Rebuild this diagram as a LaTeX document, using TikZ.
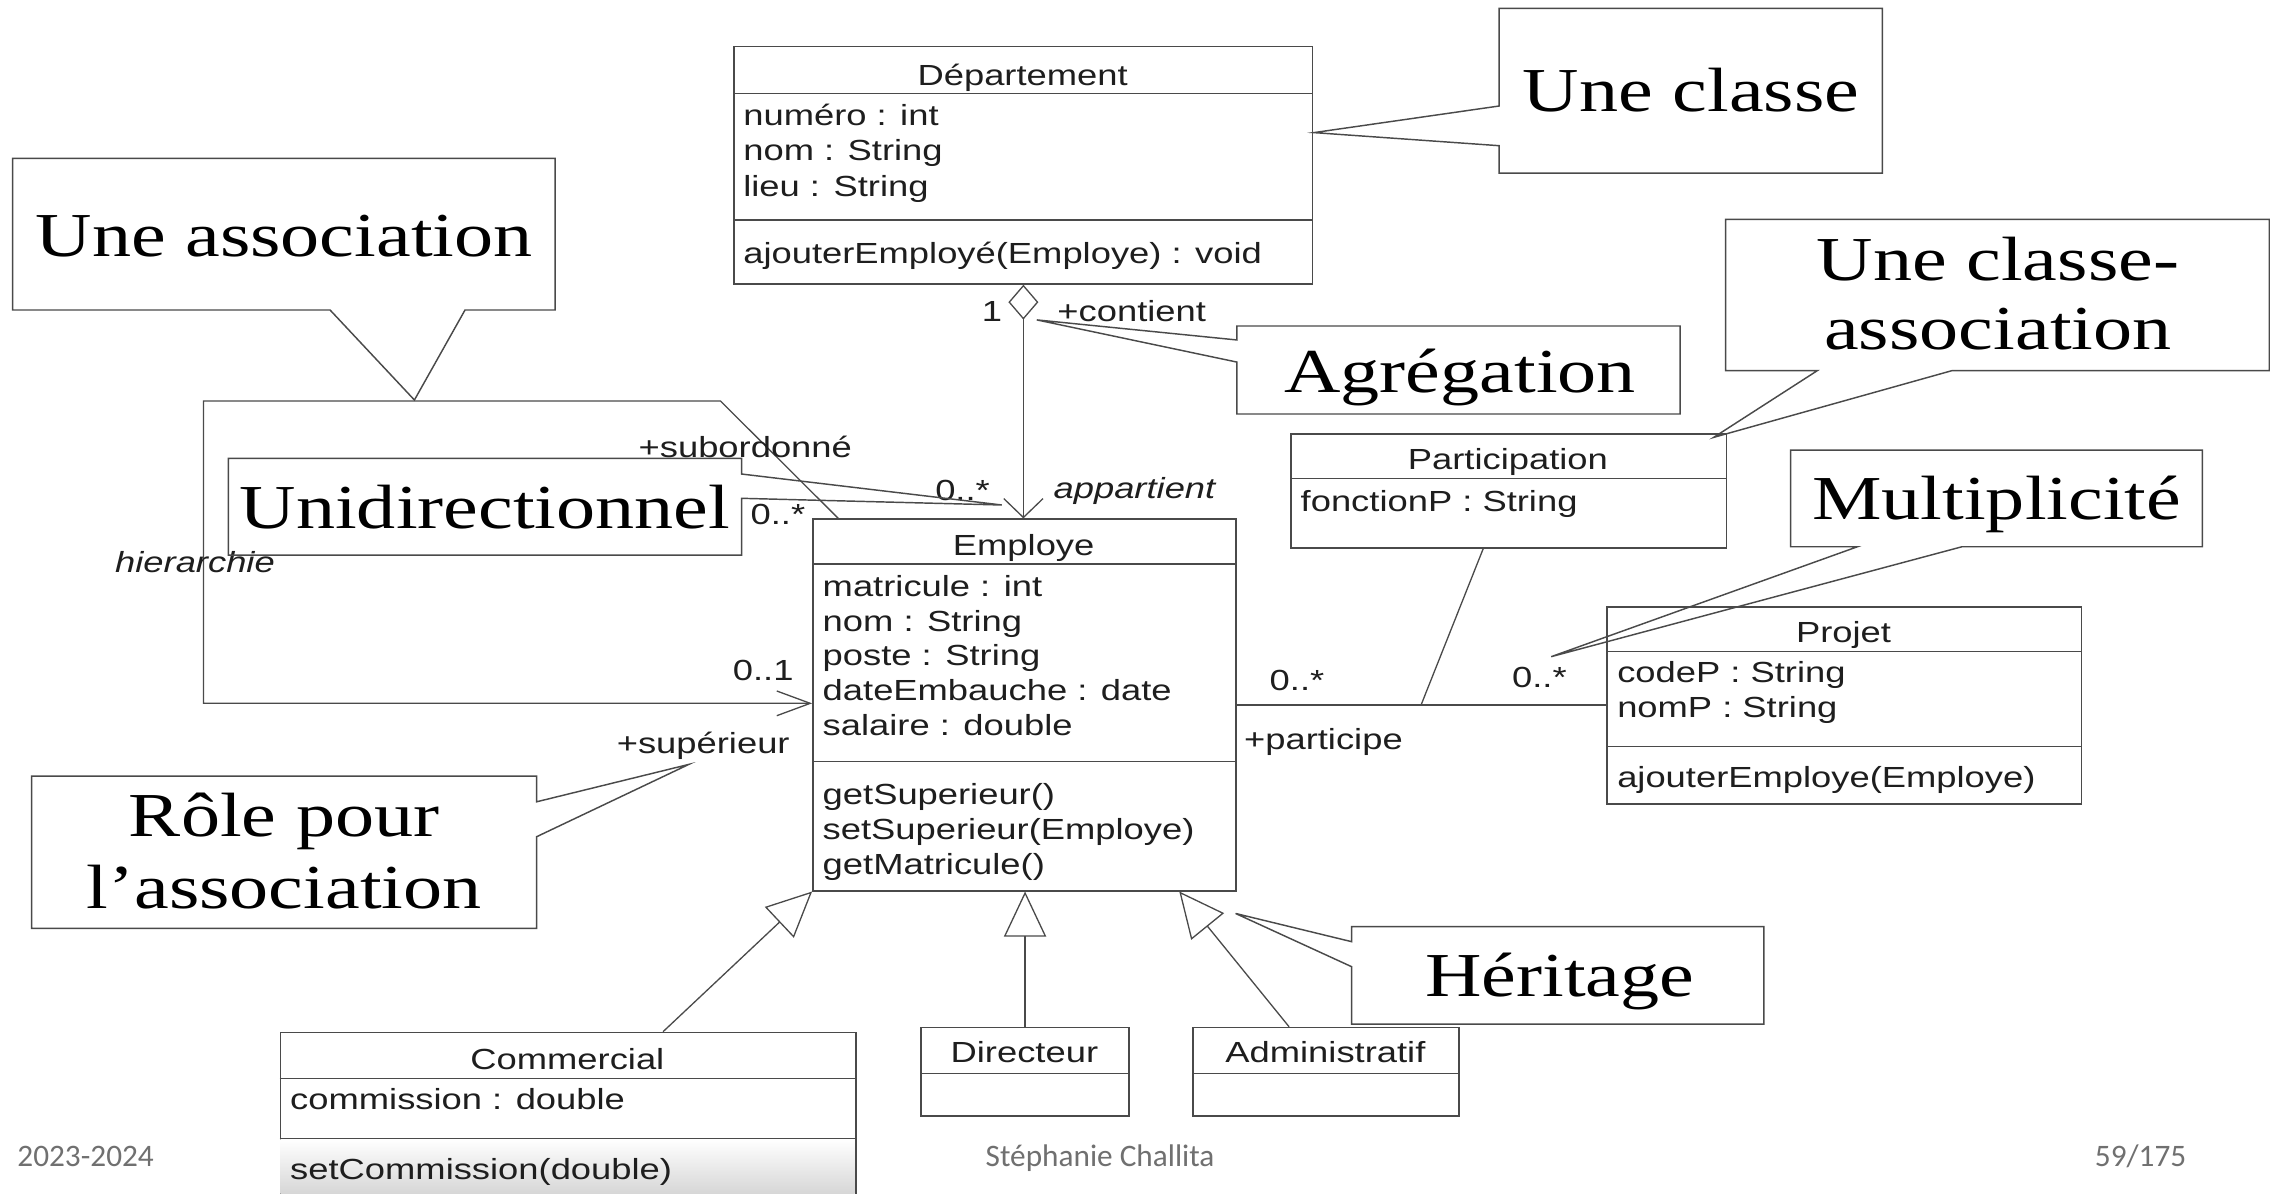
\documentclass[tikz,border=0pt]{standalone}
\usepackage{fontspec}
\usetikzlibrary{arrows.meta,calc}
\newfontfamily\umlsans[FakeStretch=1.25]{Liberation Sans}
\newfontfamily\callserif[FakeStretch=1.25]{Liberation Serif}
\newfontfamily\footsans{Carlito}
\newcommand\umlfnt{\umlsans\fontsize{20}{24}\selectfont}
\newcommand\callfnt{\callserif\fontsize{43}{49}\selectfont}
\newcommand\footfnt{\footsans\fontsize{21.5}{24}\selectfont}
\definecolor{lc}{HTML}{4A4A4A}
\definecolor{tc}{HTML}{1E1E1E}
\definecolor{fc}{HTML}{707070}
\begin{document}
\begin{tikzpicture}[x=1pt,y=-1pt,
  cls/.style={draw=lc, line width=1pt, fill=white, inner sep=0pt, anchor=north west},
  sep/.style={draw=lc, line width=1pt},
  ln/.style={draw=lc, line width=0.9pt},
  tx/.style={inner sep=0pt, anchor=base west, font=\umlfnt, text=tc},
  tt/.style={inner sep=0pt, anchor=base, font=\umlfnt, text=tc},
  co/.style={draw=lc, line width=1pt, line join=miter},
  ct/.style={inner sep=0pt, anchor=base, font=\callfnt, text=black},
  ft/.style={inner sep=0pt, anchor=base west, font=\footfnt, text=fc},
  gen/.style={ln, -{Triangle[open, length=31pt, width=29pt]}},
]
\useasboundingbox (0,0) rectangle (1568,821);
\clip (0,0) rectangle (1568,821);
\fill[white] (0,0) rectangle (1568,821);

% ---------- classes ----------
\node[cls, minimum width=398pt, minimum height=163.2pt] (dep) at (504.3,31.6) {};
\draw[sep] (504.3,64.2) -- (902.3,64.2);
\draw[sep] (504.3,151.3) -- (902.3,151.3);
\node[tt] (depT) at (703.3,58.5) {Département};
\node[tx] (depA1) at (511,86) {numéro : int};
\node[tx] (depA2) at (511,110.5) {nom : String};
\node[tx] (depA3) at (511,135) {lieu : String};
\node[tx] (depM1) at (511,181.5) {ajouterEmployé(Employe) : void};

\node[cls, minimum width=291.1pt, minimum height=255.6pt] (emp) at (558.5,356.5) {};
\draw[sep] (558.5,387.9) -- (849.6,387.9);
\draw[sep] (558.5,523.8) -- (849.6,523.8);
\node[tt] (empT) at (704,382) {Employe};
\node[tx] (empA1) at (565.6,410) {matricule : int};
\node[tx] (empA2) at (565.6,434) {nom : String};
\node[tx] (empA3) at (565.6,458) {poste : String};
\node[tx] (empA4) at (565.6,481.5) {dateEmbauche : date};
\node[tx] (empA5) at (565.6,505.5) {salaire : double};
\node[tx] (empM1) at (565.6,553.5) {getSuperieur()};
\node[tx] (empM2) at (565.6,577.5) {setSuperieur(Employe)};
\node[tx] (empM3) at (565.6,601.5) {getMatricule()};

\node[cls, minimum width=299.3pt, minimum height=78.4pt] (par) at (887.4,298) {};
\draw[sep] (887.4,329) -- (1186.7,329);
\node[tt] (parT) at (1037,323) {Participation};
\node[tx] (parA1) at (894.3,351.5) {fonctionP : String};

\node[cls, minimum width=326.4pt, minimum height=135.7pt] (prj) at (1104.6,416.8) {};
\draw[sep] (1104.6,448.2) -- (1431,448.2);
\draw[sep] (1104.6,513.5) -- (1431,513.5);
\node[tt] (prjT) at (1267.8,442) {Projet};
\node[tx] (prjA1) at (1112,469.5) {codeP : String};
\node[tx] (prjA2) at (1112,493.7) {nomP : String};
\node[tx] (prjM1) at (1112,541.8) {ajouterEmploye(Employe)};

\node[cls, minimum width=395.9pt, minimum height=130pt] (com) at (192.3,709.5) {};
\shade[top color=white, bottom color=black!16] (192.8,783.4) rectangle (587.7,821);
\draw[sep] (192.3,741.6) -- (588.2,741.6);
\draw[sep] (192.3,782.9) -- (588.2,782.9);
\node[tt] (comT) at (390.2,735.5) {Commercial};
\node[tx] (comA1) at (199.4,763) {commission : double};
\node[tx] (comM1) at (199.4,811) {setCommission(double)};

\node[cls, minimum width=143.1pt, minimum height=60.8pt] (dir) at (632.9,706.1) {};
\draw[sep] (632.9,738.2) -- (776,738.2);
\node[tt] (dirT) at (704.5,731) {Directeur};

\node[cls, minimum width=183pt, minimum height=60.8pt] (adm) at (820,706.1) {};
\draw[sep] (820,738.2) -- (1003,738.2);
\node[tt] (admT) at (911.5,731) {Administratif};

% ---------- connectors ----------
\draw[ln, {Diamond[open,length=24pt,width=20.6pt]}-{Straight Barb[length=13pt,width=27pt]}] (dep.south) -- (dep.south |- emp.north);

\coordinate (h1) at (495.5,275.8);
\coordinate (h2) at (140,275.8);
\coordinate (h3) at (140,483.7);
\draw[ln, -{Straight Barb[length=23pt,width=17pt]}] ($(emp.north west)+(18,0)$) -- (h1) -- (h2) -- (h3) -- (h3 -| emp.west);

\draw[ln] (emp.east) -- (emp.east -| prj.west);
\coordinate (pj) at (977.3,484.3);
\draw[ln] ($(par.south west)+(132.6,0)$) -- (pj |- emp.east);

\draw[gen] ($(com.north west)+(263.7,0)$) -- (emp.south west);
\draw[gen] (dir.north) -- (dir.north |- emp.south);
\draw[gen] ($(adm.north west)+(66.5,0)$) -- ($(emp.south west)+(252.5,0)$);

% ---------- labels ----------
\node[tx] (l1) at (675,221) {1};
\node[tx] (lcont) at (727,221) {+contient};
\node[tx] (lm1) at (643,344) {0..*};
\node[tx, font=\umlfnt\itshape] (lapp) at (724.4,343) {appartient};
\node[tx] (lsub) at (439,314.5) {+subordonné};
\node[tx] (lm2) at (516,361) {0..*};
\node[tx, font=\umlfnt\itshape] (lhier) at (79,394) {hierarchie};
\node[tx] (lm3) at (503.8,468) {0..1};
\node[tx] (lsup) at (424,518) {+supérieur};
\node[tx] (lm4) at (873,475) {0..*};
\node[tx] (lm5) at (1039.7,472.5) {0..*};
\node[tx] (lpart) at (855.4,515.5) {+participe};

% ---------- callouts ----------
\draw[co] (1031,5.7) -- (1294.5,5.7) -- (1294.5,119) -- (1031,119) -- (1031,100.2) -- (903.6,91.2) -- (1031,72.9) -- cycle;
\node[ct] (cClasse) at (1163,77) {Une classe};

\draw[co] (8.7,108.9) -- (381.7,108.9) -- (381.7,213.2) -- (319.8,213.2) -- (285,275.1) -- (227,213.2) -- (8.7,213.2) -- cycle;
\node[ct] (cAssoc) at (195.4,176.5) {Une association};

\draw[co] (157.1,315.2) -- (510,315.2) -- (510,326) -- (689,347.3) -- (510,342.7) -- (510,381.7) -- (157.1,381.7) -- cycle;
\node[ct] (cUni) at (333.5,363.4) {Unidirectionnel};

\draw[co] (850.6,224.2) -- (1155.4,224.2) -- (1155.4,284.7) -- (850.6,284.7) -- (850.6,249) -- (713,220) -- (850.6,233.8) -- cycle;
\node[ct] (cAgr) at (1004.2,270) {Agrégation};

\draw[co] (1186.7,150.8) -- (1560.6,150.8) -- (1560.6,254.9) -- (1342.4,254.9) -- (1178.5,300.8) -- (1249.8,254.9) -- (1186.7,254.9) -- cycle;
\node[ct] (cCA1) at (1374,192.6) {Une classe-};
\node[ct] (cCA2) at (1374,240.7) {association};

\draw[co] (1231.4,309.5) -- (1514.6,309.5) -- (1514.6,376) -- (1349.3,376) -- (1066.8,451.6) -- (1277.4,376) -- (1231.4,376) -- cycle;
\node[ct] (cMul) at (1373.2,357.6) {Multiplicité};

\draw[co] (21.7,533.7) -- (369.1,533.7) -- (369.1,551.4) -- (473.7,525.7) -- (369.1,575.4) -- (369.1,638.5) -- (21.7,638.5) -- cycle;
\node[ct] (cRole1) at (195.4,575.4) {Rôle pour};
\node[ct] (cRole2) at (195.4,625) {l’association};

\draw[co] (929.5,637.3) -- (1213,637.3) -- (1213,704.3) -- (929.5,704.3) -- (929.5,664.8) -- (849.7,628.2) -- (929.5,647.6) -- cycle;
\node[ct] (cHer) at (1072.6,685.5) {Héritage};

% ---------- footer ----------
\node[ft] (f1) at (11.8,802.5) {2023-2024};
\node[ft] (f2) at (677.7,802) {Stéphanie Challita};
\node[ft] (f3) at (1440.5,802) {59/175};
\end{tikzpicture}
\end{document}
